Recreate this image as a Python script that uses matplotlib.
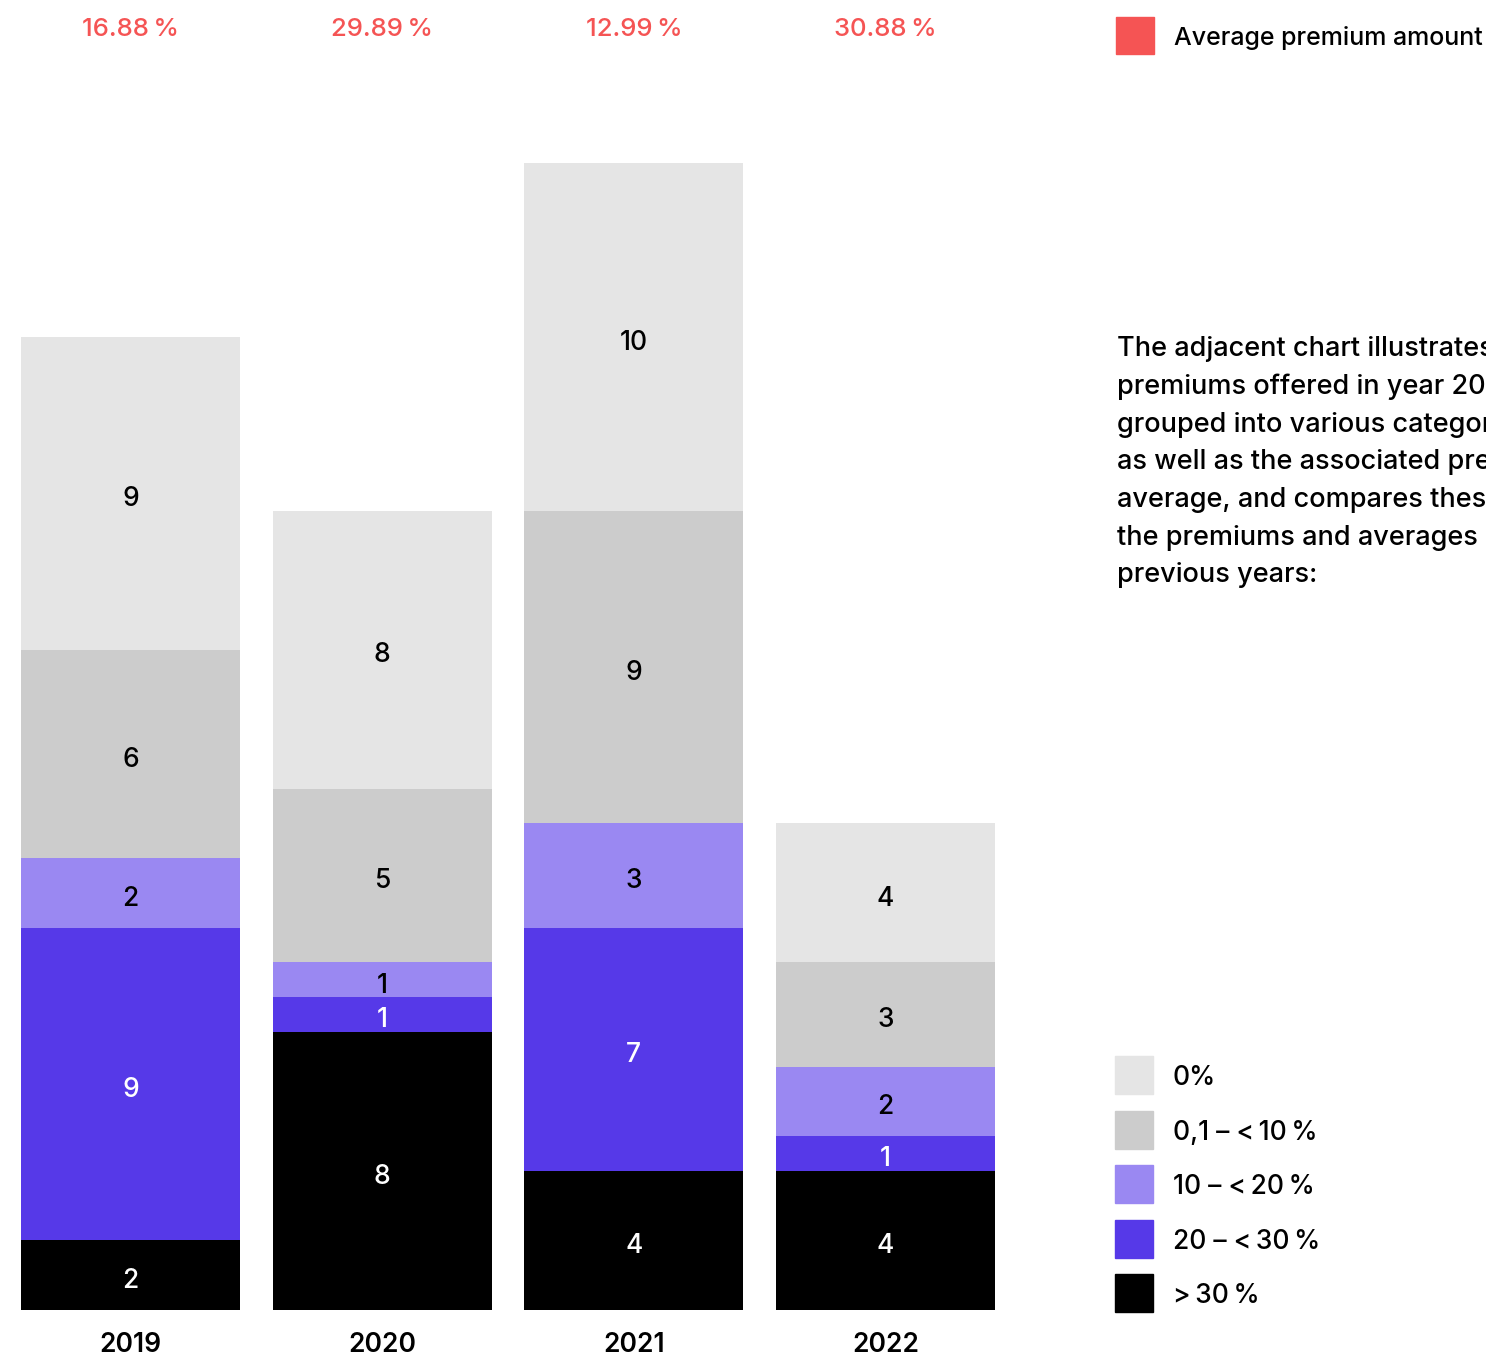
import matplotlib.pyplot as plt
from matplotlib.patches import Rectangle
import matplotlib.transforms as mtransforms

plt.rcParams['font.family'] = ['Inter', 'DejaVu Sans']
plt.rcParams['font.weight'] = 'medium'

years = ['2019', '2020', '2021', '2022']
avg_premium = ['16.88\u2009%', '29.89\u2009%', '12.99\u2009%', '30.88\u2009%']
categories = ['>\u200930\u2009%', '20 – <\u200930\u2009%', '10 – <\u200920\u2009%', '0,1 – <\u200910\u2009%', '0%']
# stacked bottom to top
values = {
    '>\u200930\u2009%': [2, 8, 4, 4],
    '20 – <\u200930\u2009%': [9, 1, 7, 1],
    '10 – <\u200920\u2009%': [2, 1, 3, 2],
    '0,1 – <\u200910\u2009%': [6, 5, 9, 3],
    '0%': [9, 8, 10, 4],
}
colors = ['#000000', '#5639e8', '#9a88f2', '#cccccc', '#e5e5e5']
text_colors = ['white', 'white', 'black', 'black', 'black']
paragraph = ("The adjacent chart illustrates the\n"
             "premiums offered in year 2022,\n"
             "grouped into various categories,\n"
             "as well as the associated premium\n"
             "average, and compares these with\n"
             "the premiums and averages of the\n"
             "previous years:")

W, H = 1486, 1356
fig = plt.figure(figsize=(W / 100, H / 100), dpi=100)
ax = fig.add_axes([21 / W, (H - 1310) / H, (995 - 21) / W, (1310 - 163) / H])
ax.set_xlim(-0.435, 3.435)
ax.set_ylim(0, 33)
ax.axis('off')

x = range(len(years))
bottom = [0] * len(years)
for cat, col, tc in zip(categories, colors, text_colors):
    vals = values[cat]
    ax.bar(x, vals, width=0.87, bottom=bottom, color=col, linewidth=0)
    for i, v in enumerate(vals):
        ax.annotate(str(v), (i, bottom[i] + v / 2), xytext=(0, -2),
                    textcoords='offset points', ha='center', va='center_baseline',
                    fontsize=19, color=tc)
    bottom = [b + v for b, v in zip(bottom, vals)]

trans = mtransforms.blended_transform_factory(ax.transData, fig.transFigure)
for i, (yr, p) in enumerate(zip(years, avg_premium)):
    ax.text(i, 1 - 29 / H, p, transform=trans, ha='center', va='center',
            fontsize=18.5, color='#f55454', clip_on=False)
    ax.text(i, 1 - 1345 / H, yr, transform=trans, ha='center', va='center',
            fontsize=19, color='black', fontweight='semibold', clip_on=False)

# top legend (average premium)
fig.patches.append(Rectangle((1116 / W, 1 - 54 / H), 38 / W, 37 / H,
                             transform=fig.transFigure, color='#f55454'))
fig.text(1174 / W, 1 - 38 / H, 'Average premium amount', ha='left', va='center',
         fontsize=18)

# paragraph
fig.text(1117 / W, 1 - 336 / H, paragraph, ha='left', va='top', fontsize=19.5,
         linespacing=1.575)

# category legend, top to bottom
leg_y = [1056, 1111, 1165, 1220, 1274]
for cat, col, y in zip(categories[::-1], colors[::-1], leg_y):
    fig.patches.append(Rectangle((1115 / W, 1 - (y + 38) / H), 38 / W, 38 / H,
                                 transform=fig.transFigure, color=col))
    fig.text(1173 / W, 1 - (y + 22) / H, cat, ha='left', va='center', fontsize=19)

fig.savefig('out.png', dpi=100)
